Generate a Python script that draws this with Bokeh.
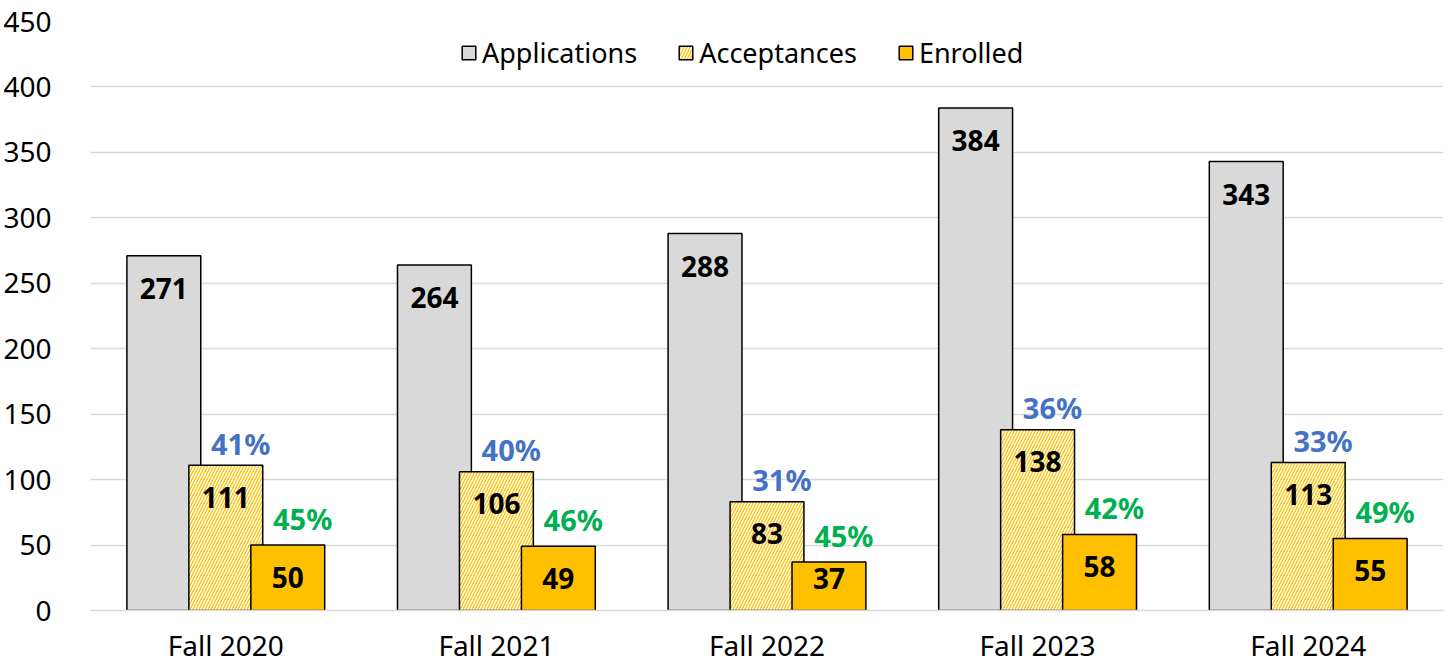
from bokeh.plotting import figure
from bokeh.models import ColumnDataSource, LabelSet, Legend, LegendItem, FactorRange
from bokeh.transform import dodge
from bokeh.core.properties import value
from bokeh.embed import file_html
from bokeh.resources import INLINE

categories = ["Fall 2020", "Fall 2021", "Fall 2022", "Fall 2023", "Fall 2024"]
applications = [271, 264, 288, 384, 343]
acceptances = [111, 106, 83, 138, 113]
enrolled = [50, 49, 37, 58, 55]
accept_rate = ["41%", "40%", "31%", "36%", "33%"]
yield_rate = ["45%", "46%", "45%", "42%", "49%"]

FONT = "Noto Sans"

src = ColumnDataSource(dict(
    cat=categories,
    app=applications,
    acc=acceptances,
    enr=enrolled,
    app_lbl=[str(v) for v in applications],
    acc_lbl=[str(v) for v in acceptances],
    enr_lbl=[str(v) for v in enrolled],
    enr_y=[max(v - 24.5, 24.5) for v in enrolled],
    app_y=[v - 25 for v in applications],
    acc_y=[v - 24.5 for v in acceptances],
    arate=accept_rate,
    yrate=yield_rate,
))

p = figure(x_range=FactorRange(*categories, range_padding=0), y_range=(0, 450),
           width=1445, height=666, output_backend="svg", toolbar_location=None,
           min_border_left=88, min_border_right=2, min_border_top=21, min_border_bottom=56)
p.outline_line_color = None
p.background_fill_color = "white"
p.border_fill_color = "white"

off = 0.229
w = 0.273
r_app = p.vbar(x=dodge("cat", -off, range=p.x_range), top="app", width=w, source=src,
               fill_color="#D9D9D9", line_color="black", line_width=1.5)
r_acc = p.vbar(x=dodge("cat", 0, range=p.x_range), top="acc", width=w, source=src,
               fill_color="white", line_color="black", line_width=1.5,
               hatch_pattern="/", hatch_color="#FFC000", hatch_scale=6, hatch_weight=1.3)
r_enr = p.vbar(x=dodge("cat", off, range=p.x_range), top="enr", width=w, source=src,
               fill_color="#FFC000", line_color="black", line_width=1.5)

common = dict(source=src, text_font=value(FONT), text_align="center",
              text_baseline="middle", text_font_style="bold")
p.add_layout(LabelSet(x=dodge("cat", -off, range=p.x_range), y="app_y", text="app_lbl",
                      text_color="black", text_font_size="28px", **common))
p.add_layout(LabelSet(x=dodge("cat", 0, range=p.x_range), y="acc_y", text="acc_lbl",
                      text_color="black", text_font_size="28px", **common))
p.add_layout(LabelSet(x=dodge("cat", off, range=p.x_range), y="enr_y", text="enr_lbl",
                      text_color="black", text_font_size="28px", **common))
p.add_layout(LabelSet(x=dodge("cat", 0.055, range=p.x_range), y="acc", text="arate",
                      y_offset=22, text_color="#4472C4", text_font_size="29px", **common))
p.add_layout(LabelSet(x=dodge("cat", off + 0.055, range=p.x_range), y="enr", text="yrate",
                      y_offset=27, text_color="#00B050", text_font_size="29px", **common))

# axes
p.yaxis.ticker = list(range(0, 451, 50))
p.yaxis.axis_line_color = None
p.yaxis.major_tick_line_color = None
p.yaxis.minor_tick_line_color = None
p.yaxis.major_label_text_font = FONT
p.yaxis.major_label_text_font_size = "28px"
p.yaxis.major_label_text_color = "black"
p.yaxis.major_label_standoff = 33

p.xaxis.axis_line_color = "#D9D9D9"
p.xaxis.axis_line_width = 1.5
p.xaxis.major_tick_line_color = None
p.xaxis.minor_tick_line_color = None
p.xaxis.major_label_text_font = FONT
p.xaxis.major_label_text_font_size = "28px"
p.xaxis.major_label_text_color = "black"
p.xaxis.major_label_standoff = 9

p.xgrid.grid_line_color = None
p.ygrid.grid_line_color = "#D9D9D9"
p.ygrid.grid_line_width = 1.5

legend = Legend(items=[
    LegendItem(label="Applications", renderers=[r_app]),
    LegendItem(label="Acceptances", renderers=[r_acc]),
    LegendItem(label="Enrolled", renderers=[r_enr]),
], orientation="horizontal", location=(370, 539),
    label_text_font=FONT, label_text_font_size="27px", label_text_color="black",
    glyph_width=17, glyph_height=17, spacing=40, label_standoff=5,
    border_line_color=None, background_fill_alpha=0, margin=0, padding=8)
p.add_layout(legend)

open("out.html", "w").write(file_html(p, INLINE))
